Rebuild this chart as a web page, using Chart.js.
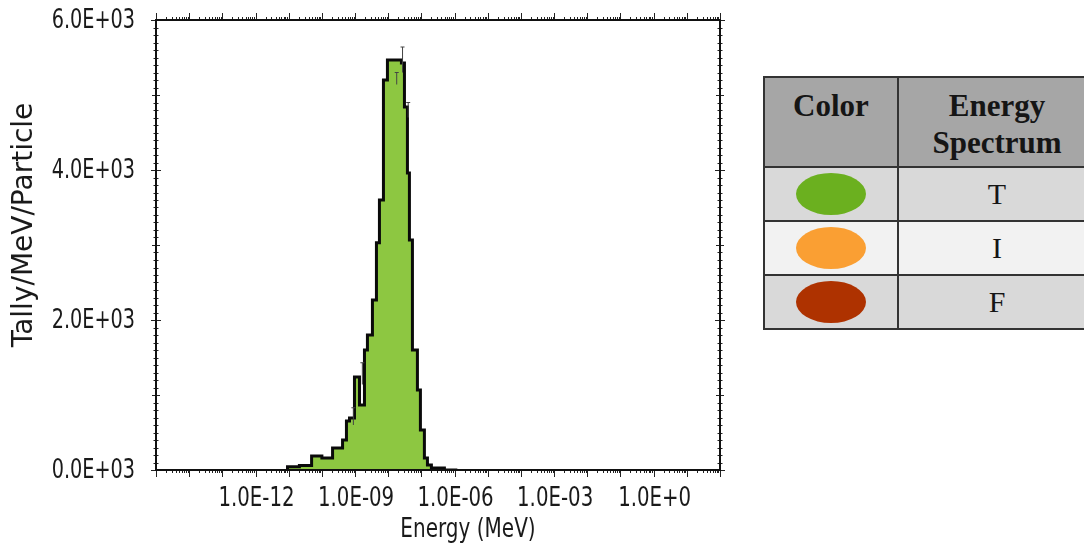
<!DOCTYPE html>
<html>
<head>
<meta charset="utf-8">
<script src="https://cdn.jsdelivr.net/npm/chart.js@4.4.1/dist/chart.umd.min.js"></script>
<style>
  body { margin: 0; width: 1084px; height: 548px; overflow: hidden; background: #fff; position: relative; }
  #wrap { position: absolute; left: 0; top: 0; width: 740px; height: 548px; }
  table.legend { position: absolute; left: 763px; top: 76px; width: 334px; border-collapse: collapse;
    font-family: "Liberation Serif", "Times New Roman", serif; color: #151515; }
  table.legend th, table.legend td { border: 2px solid #333; text-align: center; padding: 0; }
  table.legend th { background: #a6a6a6; font-weight: bold; font-size: 31px; line-height: 37px;
    height: 90px; vertical-align: top; padding-top: 9px; box-sizing: border-box; }
  table.legend td { font-size: 30px; height: 52px; }
  table.legend tr.dark td { background: #d9d9d9; }
  table.legend tr.light td { background: #f2f2f2; }
  .dot { display: inline-block; width: 70px; height: 42px; border-radius: 50%; vertical-align: middle; }
</style>
</head>
<body>
<div id="wrap"><canvas id="spectrumChart" width="740" height="548"></canvas></div>

<table class="legend">
  <tr><th style="width:134px">Color</th><th>Energy<br>Spectrum</th></tr>
  <tr class="dark"><td><span class="dot" style="background:#6bb01f"></span></td><td>T</td></tr>
  <tr class="light"><td><span class="dot" style="background:#fa9f33"></span></td><td>I</td></tr>
  <tr class="dark"><td><span class="dot" style="background:#ae3200"></span></td><td>F</td></tr>
</table>

<script>
// --- Data ---
// energy bin edges (MeV) and tally per bin (one fewer than edges)
const binEdges = [9.2e-12, 2.1e-11, 4.9e-11, 1.0e-10, 2.1e-10, 4.2e-10, 5.5e-10, 6.8e-10, 9.6e-10,
  1.36e-9, 1.92e-9, 2.36e-9, 3.34e-9, 4.41e-9, 5.43e-9, 7.17e-9, 9.46e-9, 2.5e-8, 3.08e-8,
  3.79e-8, 4.35e-8, 5.36e-8, 7.58e-8, 9.33e-8, 1.23e-7, 1.52e-7, 2.0e-7, 4.93e-7, 1.21e-6];
const tallyValues = [30, 45, 60, 187, 160, 293, 400, 653, 693, 1240, 867, 1600, 1800, 2267,
  3030, 3600, 5200, 5467, 5427, 4840, 3960, 3067, 1600, 1067, 533, 160, 67, 27];

// a few visible error bars
const errEnergy = [8.9e-10, 1.66e-9, 1.8e-8, 2.7e-8, 4.0e-8];
const errLow = [600, 1140, 5140, 5300, 4700];
const errHigh = [830, 1430, 5300, 5640, 4900];

// axis ticks
const xTickValues = [1e-12, 1e-9, 1e-6, 1e-3, 1];
const xTickLabels = ["1.0E-12", "1.0E-09", "1.0E-06", "1.0E-03", "1.0E+0"];
const yTickValues = [0, 2000, 4000, 6000];
const yTickLabels = ["0.0E+03", "2.0E+03", "4.0E+03", "6.0E+03"];

const xTitle = "Energy (MeV)";
const yTitle = "Tally/MeV/Particle";

// step points: start on the baseline, then one point per edge
const stepPoints = [{ x: binEdges[0], y: 0 }].concat(
  binEdges.map((e, i) => ({ x: e, y: i < tallyValues.length ? tallyValues[i] : 0 }))
);

const labelFont = "26px 'DejaVu Sans', sans-serif";

// narrow text like the original plot
function drawNarrow(ctx, text, x, y, sx) {
  ctx.save();
  ctx.translate(x, y);
  ctx.scale(sx, 1);
  ctx.fillText(text, 0, 0);
  ctx.restore();
}

// --- Frame, tick marks, labels, error bars ---
const framePlugin = {
  id: "framePlugin",
  afterDatasetsDraw(chart) {
    const { ctx, scales: { x, y } } = chart;
    ctx.save();
    ctx.strokeStyle = "#444";
    ctx.lineWidth = 1;
    ctx.beginPath();
    errEnergy.forEach((e, i) => {
      const px = x.getPixelForValue(e);
      const lo = y.getPixelForValue(errLow[i]);
      const hi = y.getPixelForValue(errHigh[i]);
      ctx.moveTo(px, lo); ctx.lineTo(px, hi);
      ctx.moveTo(px - 2, hi); ctx.lineTo(px + 2, hi);
    });
    ctx.stroke();
    ctx.restore();
  },
  afterDraw(chart) {
    const { ctx, chartArea: a, scales: { x, y } } = chart;
    ctx.save();
    ctx.strokeStyle = "#222";
    ctx.lineWidth = 1;
    ctx.beginPath();
    for (let p = -15; p <= 2; p++) {
      for (let m = 1; m <= 9; m++) {
        const v = m * Math.pow(10, p);
        if (v > x.max * 1.0001) break;
        const px = Math.round(x.getPixelForValue(v)) + 0.5;
        const len = m === 1 ? 7 : 3;
        ctx.moveTo(px, a.bottom); ctx.lineTo(px, a.bottom + len);
        ctx.moveTo(px, a.top); ctx.lineTo(px, a.top - len);
      }
    }
    for (let v = 0; v <= 6000; v += 100) {
      const py = Math.round(y.getPixelForValue(v)) + 0.5;
      const len = v % 2000 === 0 ? 5 : (v % 1000 === 0 ? 4 : 2.5);
      ctx.moveTo(a.left - len, py); ctx.lineTo(a.left + len, py);
      ctx.moveTo(a.right - len, py); ctx.lineTo(a.right + len, py);
    }
    ctx.stroke();

    ctx.strokeStyle = "#111";
    ctx.lineWidth = 2;
    ctx.strokeRect(a.left, a.top, a.right - a.left, a.bottom - a.top);

    // tick labels
    ctx.fillStyle = "#1a1a1a";
    ctx.font = labelFont;
    ctx.textBaseline = "middle";
    ctx.textAlign = "right";
    yTickValues.forEach((v, i) => drawNarrow(ctx, yTickLabels[i], a.left - 21, y.getPixelForValue(v) + 1, 0.74));
    ctx.textAlign = "center";
    xTickValues.forEach((v, i) => drawNarrow(ctx, xTickLabels[i], x.getPixelForValue(v) + 1, a.bottom + 29, 0.76));

    // axis titles
    drawNarrow(ctx, xTitle, a.left + 312, a.bottom + 60, 0.77);
    ctx.translate(a.left - 131, a.top + 205);
    ctx.rotate(-Math.PI / 2);
    ctx.font = "28px 'DejaVu Sans', sans-serif";
    ctx.fillText(yTitle, 0, 0);
    ctx.restore();
  }
};

// --- Chart.js Setup ---
const ctx = document.getElementById("spectrumChart").getContext("2d");
const spectrumChart = new Chart(ctx, {
  type: "line",
  data: {
    datasets: [{
      label: "T",
      data: stepPoints,
      stepped: "after",
      borderColor: "#0a0a0a",
      borderWidth: 3,
      backgroundColor: "#8dc741",
      fill: "origin",
      pointRadius: 0
    }]
  },
  options: {
    responsive: false,
    animation: false,
    devicePixelRatio: 1,
    layout: { padding: { top: 20, right: 20, left: 0, bottom: 0 } },
    plugins: { legend: { display: false }, tooltip: { enabled: false } },
    scales: {
      x: {
        type: "logarithmic",
        min: 1e-15,
        max: 1e2,
        afterBuildTicks: (scale) => { scale.ticks = xTickValues.map(v => ({ value: v })); },
        afterFit: (scale) => { scale.height = 78; },
        grid: { display: false, drawTicks: false },
        border: { display: false },
        ticks: { display: false }
      },
      y: {
        min: 0,
        max: 6000,
        afterBuildTicks: (scale) => { scale.ticks = yTickValues.map(v => ({ value: v })); },
        afterFit: (scale) => { scale.width = 156; },
        grid: { display: false, drawTicks: false },
        border: { display: false },
        ticks: { display: false }
      }
    }
  },
  plugins: [framePlugin]
});
</script>
</body>
</html>
